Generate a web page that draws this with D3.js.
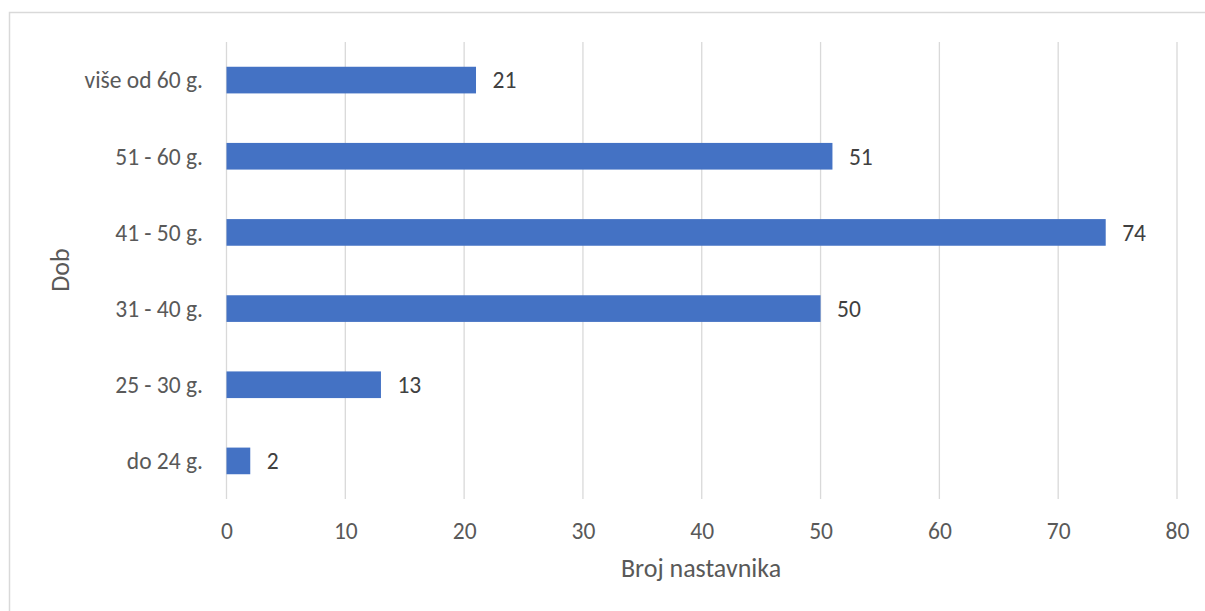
<!DOCTYPE html>
<html><head><meta charset="utf-8">
<script src="https://cdn.jsdelivr.net/npm/d3@7"></script>
<style>body{margin:0;background:#fff}svg{display:block}text{font-family:Carlito,Lato,"Open Sans",sans-serif}</style>
</head><body><svg id="c" width="1205" height="611"></svg>
<script>
const categories = ["više od 60 g.", "51 - 60 g.", "41 - 50 g.", "31 - 40 g.", "25 - 30 g.", "do 24 g."];
const values = [21, 51, 74, 50, 13, 2];
const xTicks = [0, 10, 20, 30, 40, 50, 60, 70, 80];
const xTitle = "Broj nastavnika";
const yTitle = "Dob";

const labelSize = 23.5, titleSize = 26;
const svg = d3.select("#c");
svg.append("rect").attr("x", 9.5).attr("y", 12.5).attr("width", 1220).attr("height", 640)
  .attr("fill", "#fff").attr("stroke", "#d9d9d9").attr("stroke-width", 1.5);

const x = d3.scaleLinear().domain([0, 80]).range([226.5, 1177]);
const y = d3.scaleBand().domain(categories).range([42, 499]).paddingInner(0.65).paddingOuter(0.325);

const g = svg.append("g");
g.selectAll("line.grid").data(xTicks).join("line").attr("class", "grid")
  .attr("x1", d => x(d)).attr("x2", d => x(d)).attr("y1", 42).attr("y2", 499)
  .attr("stroke", "#d9d9d9").attr("stroke-width", 1.3);

g.selectAll("rect.bar").data(values).join("rect").attr("class", "bar")
  .attr("x", x(0)).attr("y", (d, i) => y(categories[i]))
  .attr("width", d => x(d) - x(0)).attr("height", y.bandwidth()).attr("fill", "#4472c4");

g.selectAll("text.val").data(values).join("text").attr("class", "val")
  .attr("x", d => x(d) + 16.5).attr("y", (d, i) => y(categories[i]) + y.bandwidth() / 2 + 8.3)
  .attr("fill", "#404040").attr("font-size", labelSize).text(d => d);

const xAxis = d3.axisBottom(x).tickValues(xTicks).tickSize(0).tickPadding(0);
const xa = svg.append("g").attr("transform", "translate(0,539)").call(xAxis);
xa.select(".domain").remove();
xa.selectAll("text").attr("dy", null).attr("y", 0).attr("fill", "#595959").attr("font-size", labelSize).attr("font-family", null);

const yAxis = d3.axisLeft(y).tickSize(0).tickPadding(0);
const ya = svg.append("g").attr("transform", "translate(203,0)").call(yAxis);
ya.select(".domain").remove();
ya.selectAll("text").attr("x", 0).attr("dy", null).attr("y", 8.3).attr("fill", "#595959").attr("font-size", labelSize).attr("font-family", null);

svg.append("text").attr("x", 701).attr("y", 577).attr("text-anchor", "middle")
  .attr("fill", "#595959").attr("font-size", titleSize).text(xTitle);
svg.append("text").attr("transform", "translate(69,270) rotate(-90)").attr("text-anchor", "middle")
  .attr("fill", "#595959").attr("font-size", titleSize).text(yTitle);
</script></body></html>
